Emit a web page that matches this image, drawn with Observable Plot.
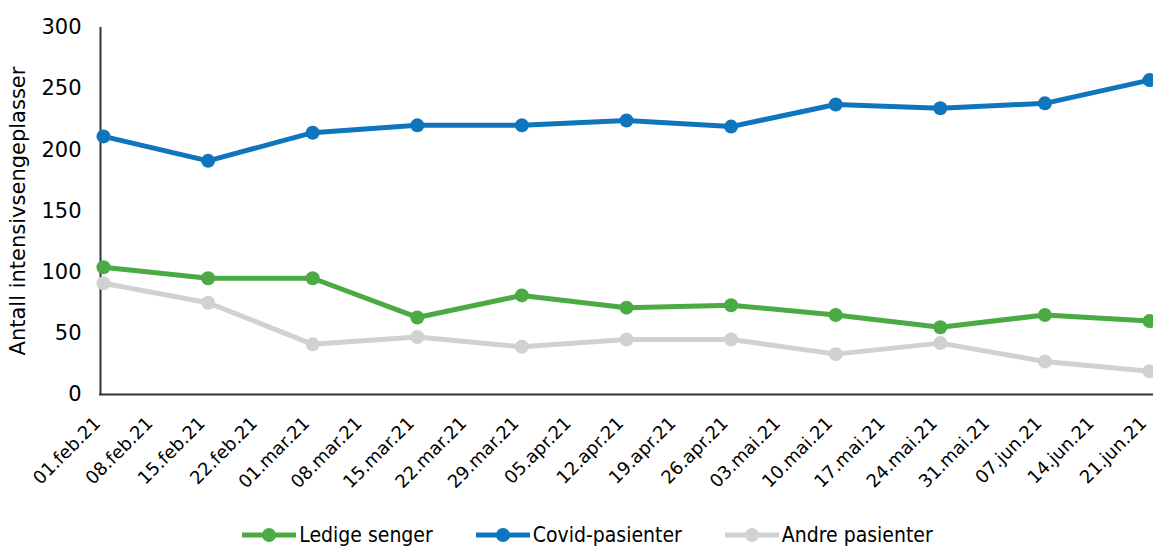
<!DOCTYPE html>
<html>
<head>
<meta charset="utf-8">
<script src="https://cdn.jsdelivr.net/npm/d3@7"></script>
<script src="https://cdn.jsdelivr.net/npm/@observablehq/plot@0.6"></script>
<style>
  html, body { margin: 0; padding: 0; background: #fff; }
  #chart svg { display: block; }
  .legend {
    display: flex; justify-content: center; align-items: center;
    gap: 43px; height: 33px; margin-left: 22px; padding-top: 7px;
    font-family: "DejaVu Sans Condensed", "Liberation Sans Narrow", sans-serif;
    font-size: 21px; color: #000;
  }
  .legend .item { display: flex; align-items: center; gap: 3px; }
</style>
</head>
<body>
<div id="chart"></div>
<div class="legend" id="legend"></div>
<script>
// Registreringsdatoer (annenhver uke)
const dates = ["2021-02-01", "2021-02-15", "2021-03-01", "2021-03-15", "2021-03-29", "2021-04-12",
               "2021-04-26", "2021-05-10", "2021-05-24", "2021-06-07", "2021-06-21"];
// Antall senger per serie
const ledigeSenger   = [104, 95, 95, 63, 81, 71, 73, 65, 55, 65, 60];
const covidPasienter = [211, 191, 214, 220, 220, 224, 219, 237, 234, 238, 257];
const andrePasienter = [91, 75, 41, 47, 39, 45, 45, 33, 42, 27, 19];
// Ukentlige aksemerker
const tickLabels = ["01.feb.21", "08.feb.21", "15.feb.21", "22.feb.21", "01.mar.21", "08.mar.21",
  "15.mar.21", "22.mar.21", "29.mar.21", "05.apr.21", "12.apr.21", "19.apr.21", "26.apr.21",
  "03.mai.21", "10.mai.21", "17.mai.21", "24.mai.21", "31.mai.21", "07.jun.21", "14.jun.21", "21.jun.21"];

const series = [
  {name: "Andre pasienter", values: andrePasienter, color: "#d0d1d3"},
  {name: "Ledige senger", values: ledigeSenger, color: "#4aab44"},
  {name: "Covid-pasienter", values: covidPasienter, color: "#0f75bc"}
];
const legendOrder = ["Ledige senger", "Covid-pasienter", "Andre pasienter"];

const parse = d3.utcParse("%Y-%m-%d");
const start = parse(dates[0]);
const end = parse(dates[dates.length - 1]);
const tickDates = tickLabels.map((_, i) => d3.utcDay.offset(start, 7 * i));
const ticks = tickDates.map((d, i) => ({date: d, label: tickLabels[i]}));

const rows = series.flatMap(s => s.values.map((v, i) => ({serie: s.name, date: parse(dates[i]), value: v})));

const font = "DejaVu Sans, sans-serif";

const marks = [
  // aksene
  Plot.ruleY([0], {stroke: "#333", strokeWidth: 2, x1: start, x2: end, insetLeft: -4, insetRight: -4}),
  Plot.ruleX([start], {stroke: "#333", strokeWidth: 2, dx: -3, y1: 0, y2: 300}),
  Plot.axisY({ticks: d3.range(0, 301, 50), tickSize: 0, tickPadding: 22, fontSize: 21,
    label: "Antall intensivsengeplasser", labelAnchor: "center", labelArrow: "none", labelOffset: 93}),
  // skrå datoetiketter under x-aksen
  Plot.text(ticks, {x: "date", y: () => 0, text: "label", rotate: -45, textAnchor: "end",
    lineAnchor: "bottom", fontSize: 18, dx: -2, dy: 30, fill: "#000"}),
];
for (const s of series) {
  const data = rows.filter(r => r.serie === s.name);
  marks.push(Plot.line(data, {x: "date", y: "value", stroke: s.color, strokeWidth: 5}));
  marks.push(Plot.dot(data, {x: "date", y: "value", fill: s.color, r: 7}));
}

const chart = Plot.plot({
  width: 1153,
  height: 511,
  marginLeft: 103,
  marginRight: 4,
  marginTop: 27,
  marginBottom: 117,
  style: {fontFamily: font, color: "#000", background: "#fff", overflow: "visible"},
  x: {type: "utc", domain: [start, end], axis: null},
  y: {domain: [0, 300]},
  marks
});
document.getElementById("chart").appendChild(chart);

// tegnforklaring
const legend = document.getElementById("legend");
for (const name of legendOrder) {
  const s = series.find(d => d.name === name);
  const item = document.createElement("div");
  item.className = "item";
  item.innerHTML = `<svg width="54" height="16"><line x1="0" x2="54" y1="8" y2="8" stroke="${s.color}" stroke-width="5"/><circle cx="27" cy="8" r="7" fill="${s.color}"/></svg><span>${s.name}</span>`;
  legend.appendChild(item);
}
</script>
</body>
</html>
